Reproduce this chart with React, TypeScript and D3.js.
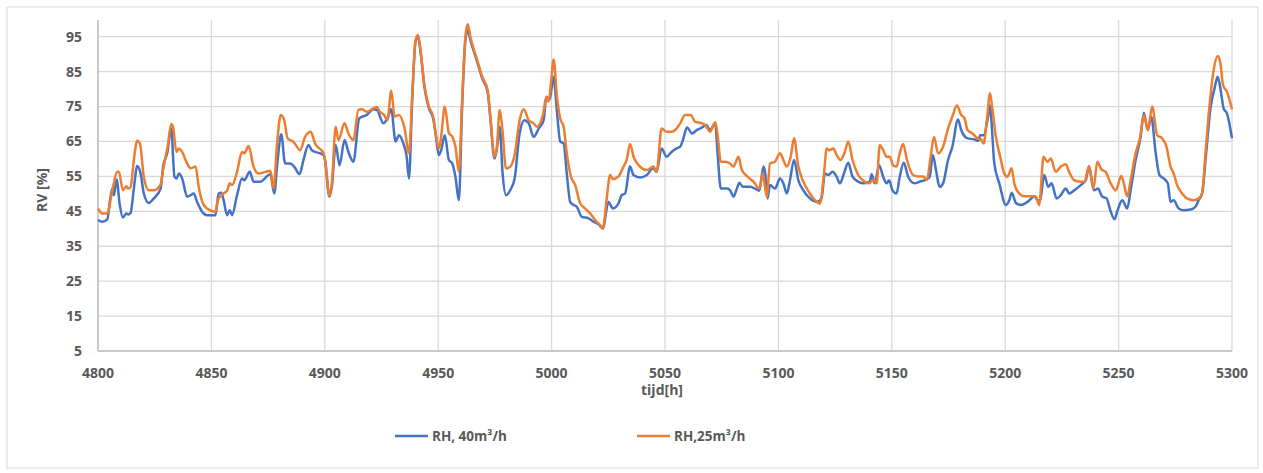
import React from "react";
import * as d3 from "d3";

// Relative humidity over time for two ventilation rates
const hours40 = [4800,4801.9,4804.1,4805.3,4806.3,4807,4808.2,4809.6,4811,4812.5,4813.3,4814.4,4815.8,4817.3,4818.8,4820.2,4822.4,4824.6,4827.6,4828.7,4830.5,4832.3,4833.7,4834.6,4835.7,4837.1,4839.3,4840.8,4842.2,4843.7,4845.9,4848.1,4851.8,4853.2,4854.3,4855.4,4856.9,4858.1,4859.1,4861.3,4863.5,4864.5,4866.9,4868.6,4871.6,4876,4877.7,4879.2,4880.8,4882.5,4884.8,4886.5,4888.9,4890.6,4892.8,4894.3,4899.4,4900.1,4902,4903.1,4904.8,4906.5,4908.7,4910.4,4912.6,4915.2,4918.5,4921.4,4923,4925.8,4927.6,4929.3,4931.2,4932.7,4934.6,4936.1,4937.1,4938.6,4940,4941.1,4942.2,4944,4945.9,4947.8,4948.8,4950.3,4951.3,4952.9,4954.7,4956.2,4957.6,4959.1,4960.6,4962,4963,4964.2,4967.2,4969.4,4971.8,4973,4974.8,4975.9,4977.1,4978.4,4979.9,4981.8,4983.7,4985.9,4988,4989.9,4992.1,4994.3,4996.5,4997.7,4999.1,5000.9,5002.3,5003.8,5005.3,5006.7,5008.2,5009.7,5011.1,5013.3,5016.3,5018.5,5020.7,5022.6,5025.1,5027,5029.5,5030.9,5032.4,5034.6,5036.1,5039,5042,5044.6,5046.3,5048.5,5050.7,5052.9,5055.1,5056.7,5057.9,5059.7,5061.9,5064.1,5066.3,5068.2,5069.9,5072.1,5073.2,5074.6,5077.3,5078.7,5080.2,5081.7,5082.8,5084.3,5087.5,5089.7,5091.6,5093.4,5094.2,5095.2,5096.3,5098.5,5100.7,5102.2,5103.7,5105.1,5106.9,5108.8,5111,5113.9,5116.9,5119,5120.5,5122,5123.9,5125.7,5127.1,5128.9,5130.8,5132.7,5135.2,5137.4,5140.3,5141.1,5142.5,5144.4,5146.2,5147.7,5148.8,5150.3,5152.1,5153.5,5155.3,5157.2,5160.1,5162.3,5165.2,5166.7,5168.1,5169.6,5171.1,5172.6,5174.8,5176.7,5179.2,5180.6,5182.3,5183.4,5186.4,5188.1,5189,5190.5,5192.2,5193.3,5193.9,5195.2,5197.4,5200.3,5201.8,5202.9,5204.7,5206.9,5209.8,5213,5214.2,5215.4,5217.2,5219,5220.4,5222.7,5224.5,5226.7,5228.2,5230.4,5233.3,5235.5,5237,5239.1,5240.9,5242.8,5244.7,5246.5,5248.2,5249.4,5251.6,5253.8,5255.3,5257.5,5259.7,5261.1,5262.9,5264.4,5266.3,5268,5269.9,5271.7,5272.9,5274.3,5276.5,5278.7,5281.7,5283.9,5285.3,5286.8,5288.6,5290.5,5292.3,5293.7,5295.2,5296.3,5297.8,5300];
const rh40 = [42.5,42,42.7,48.2,51.5,49.6,54.1,46.8,43.2,44.4,44.1,44.6,51.5,58,55.8,50.1,47.4,48.7,51.5,57.8,61.6,68.7,54.9,54.4,55.8,54.4,49.2,49.6,50.1,47.7,44.9,43.9,43.9,50.1,50.3,48.2,43.9,45.3,43.9,49.6,54.4,53.9,56.3,53.5,53.5,55.6,50.1,59.7,67.1,58.7,58.7,57.8,55.6,59.7,64,62.5,61.1,59.7,49.2,52,64,58.2,65.4,62,59.2,71.6,72.6,74.2,74,70.2,71.6,74.2,65,66.8,64.5,60.6,54.4,77.8,93.6,95,90.7,80.2,74.5,71.6,67.4,61.1,62.5,66.8,59.7,58.7,54.9,48.2,75.9,94,96.9,94,87.8,83.1,79.2,71.6,60.1,63,69.2,55.8,49.6,51.1,54.4,67.3,71.1,70.2,66.3,68.7,71.1,77.8,76.9,83.5,74,65,64.4,55.8,47.7,46.8,46.3,43.4,43,42,41.3,40.1,47.7,45.8,47.3,49.6,50.1,57.8,55.4,54.7,55.4,57.3,56.3,63,60.6,62,63,63.5,65.4,69,67.3,68.3,69,69.7,68.3,70.2,61.6,51.5,51.5,51,49.2,51.5,53.2,52,52,51.5,50.9,57.8,55.8,48.7,52.5,51.5,54.4,53,50.1,53.9,59.7,53.9,51,48.7,47.7,48.7,55.8,55.4,56.3,54.9,53,55.8,58.9,54.9,53.5,53,53.5,55.6,53,58.2,54.9,53,53.9,51,50.1,54.9,58.9,54.9,53,53.5,54.1,54.9,61.1,56.3,52,53,59.7,63.5,71.3,68.3,66.3,65.9,65.6,65.2,66.8,66.8,71.1,75.4,71.1,58.7,53,46.8,48.2,50.3,47.4,46.8,47.7,49.3,48.2,48.2,55.4,52,53,48.7,49.6,51.5,50.1,51,52.5,53.9,57.9,51,51.5,49.2,48.7,45,42.7,45,48.2,45.8,51,59.7,66.3,73.2,68.3,72.1,62,55.4,54.4,53,47.7,48.2,45.8,45.3,45.5,46.3,48.2,50.1,61.6,74.5,80.2,83.5,78.9,74.5,73,65.9];

const hours25 = [4800,4801.9,4804.1,4806.3,4808.5,4809.2,4811,4812.5,4813.3,4814.4,4815.8,4817.3,4818.5,4820.2,4822.4,4824.6,4827.6,4828.7,4830.8,4832.3,4833,4834.6,4835.6,4837.1,4839.3,4840.8,4843,4844.4,4846.6,4849.5,4851.8,4852.8,4855.4,4856.9,4858.1,4859.1,4861.3,4863.5,4864.5,4866.4,4868.6,4870.8,4873.8,4876,4877.4,4878.9,4880.6,4882.1,4883.6,4886.2,4889.1,4891.3,4893.8,4895.7,4899.4,4900.1,4902,4903.1,4904.8,4906,4908.7,4910.4,4912.6,4914.8,4916.3,4918.5,4922.9,4924.3,4926.1,4927.6,4929.3,4930.8,4932.7,4935.2,4937.1,4938.6,4940,4941.1,4942.2,4944,4945.9,4947.8,4948.8,4950.3,4951.3,4952.9,4954.7,4956.2,4957.6,4959.1,4960.6,4962,4963,4964.2,4967.2,4969.4,4971.8,4973,4974.8,4975.9,4977.1,4978.2,4979.9,4981.8,4983.7,4985.9,4987.7,4989.9,4992.1,4993.5,4996.2,4997.7,4998.7,4999.7,5000.9,5002.3,5003.8,5005.3,5006.7,5008.5,5010.4,5012.6,5014.8,5017,5019.2,5021.4,5022.6,5024.3,5025.8,5027,5029.5,5031.7,5033.1,5034.6,5036.1,5039,5042,5044.9,5046.3,5048.5,5050.7,5052.9,5055.1,5056.7,5058.9,5061.4,5063.3,5066.3,5067.7,5069.9,5071.1,5072.1,5073.2,5074.6,5076.5,5078.7,5080.2,5082.4,5083.9,5086.1,5089,5091.6,5093.1,5094.9,5096.3,5098.5,5100.7,5102.2,5103.7,5105.4,5106.9,5108.8,5111,5113.9,5116.1,5118.3,5120.1,5121.3,5122.4,5124.2,5125.7,5127.4,5129.3,5130.8,5132.7,5135.2,5138.1,5140,5141.8,5143.3,5144.7,5146.2,5147.7,5149.1,5150.6,5152.1,5153.5,5155,5156.7,5159.4,5161.6,5163.8,5165.5,5167,5168.6,5170.4,5172.6,5174.8,5176.7,5178.7,5180.6,5182,5183.4,5185.6,5187.8,5189.3,5190.5,5191.9,5193.3,5194.4,5195.9,5197.8,5199.6,5201,5202.8,5204,5206.2,5208.4,5211.3,5213.5,5215,5216.9,5218.6,5220.1,5222.3,5224.5,5226.7,5228.2,5230.4,5233.3,5235,5236.9,5238.9,5240.6,5242.4,5244.3,5246.5,5248.7,5251.2,5252.3,5253.8,5255.3,5257.5,5259.7,5261.1,5262.9,5264.8,5267,5269.2,5271.1,5272.9,5274.3,5275.8,5278,5280.2,5283.1,5285.3,5286.8,5288.3,5289.7,5291.9,5293.7,5294.9,5296,5297.8,5300];
const rh25 = [45.8,44.4,44.4,51,56.3,56.3,51,52.2,51.5,52,59.7,65.2,64.4,54.9,51,51,52.7,56.8,64,70,69.4,62,63,62,58.7,57.3,57.8,52,46.8,45.3,44.9,48.2,50.1,50.9,53,52.5,56.3,62,61.6,63.7,57.8,55.8,56.3,56.6,51.5,64,72.6,71.1,65.9,64.9,62.5,66.3,67.8,64.4,61.6,59.7,49.6,53,69.2,65.4,70.2,67.3,65.4,74,74.2,73.5,74.9,73.5,72.6,71.1,79.5,72.1,72.6,68.7,61.6,78.8,94,95.5,91.2,80.7,75,72.1,67.8,63,66.4,75,67.4,66.4,63.5,56.3,77.8,95,98.6,95,88.3,83.6,79.7,72.1,60.7,63.5,74,69.2,57.3,57.8,61.1,71.1,74.2,71.1,70.2,69.2,72.6,77.8,76.4,81.6,88.5,78.3,71.6,69.2,61.6,55,52.5,47.3,45.8,44.4,42.5,41,40.1,48.7,55.4,54.2,55,57.8,59.7,64.3,60.7,57.8,56.8,57.8,56.3,68.7,67.8,67.8,68.7,70.2,72.6,72.6,70.6,70.2,69.7,67.8,69.2,70.6,66.8,59.2,59.2,58.7,57.8,60.6,56.8,55.1,53.5,51.5,55.8,49.2,58.7,59.2,61.6,59.7,57.8,60.6,65.9,57.8,53.5,50.1,48.2,47.2,55.8,63,62.5,63,61.1,59.7,62,65,59.7,55.4,53.5,53,54.1,53,64,62.5,60.6,60.6,58.2,57.8,61.6,64.3,59.7,55.4,55,55,54,60.1,66.3,61.6,63.5,68.7,72.1,75.3,72.6,71.7,68.3,67.3,65.9,65.6,64.4,71.1,78.8,74,66.3,60.6,55.8,54.9,57.3,53,50.1,49.3,49.3,49.2,46.8,60.6,59.2,60.1,56.3,57.8,58.5,56.3,53.9,53.5,53.5,57.8,51.5,59.2,57,56.3,53,51,55.1,53,49.3,53.9,61.6,66.8,72.6,68.3,75,66.8,65.9,63.5,57.8,55.8,52.5,50.1,48.7,48.2,48.7,50.1,61.6,72.6,85.4,89.5,87.4,81.2,79.2,74.2];

const xTicks = [4800, 4850, 4900, 4950, 5000, 5050, 5100, 5150, 5200, 5250, 5300];
const yTicks = [5, 15, 25, 35, 45, 55, 65, 75, 85, 95];

const seriesNames = ["RH, 40m³/h", "RH,25m³/h"];
const seriesColors = ["#4472C4", "#ED7D31"];

const W = 1263;
const H = 473;
const left = 98;
const right = 1232;
const top = 20;
const bottom = 351;

const FONT = "'Open Sans', 'Segoe UI', sans-serif";
const TEXT = "#595959";
const GRID = "#d9d9d9";

export default function App() {
  const x = d3.scaleLinear().domain([4800, 5300]).range([left, right]);
  const y = d3.scaleLinear().domain([5, 95]).range([bottom, 36.7]);

  const line = d3
    .line<[number, number]>()
    .x((d) => x(d[0]))
    .y((d) => y(d[1]))
    .curve(d3.curveMonotoneX);

  const s40 = hours40.map((h, i) => [h, rh40[i]] as [number, number]);
  const s25 = hours25.map((h, i) => [h, rh25[i]] as [number, number]);

  return (
    <svg
      width={W}
      height={H}
      style={{ position: "absolute", left: 0, top: 0, background: "#fff" }}
      fontFamily={FONT}
    >
      <rect x={7} y={7} width={1251} height={461} fill="#fff" stroke={GRID} strokeWidth={1} />

      {/* gridlines */}
      {yTicks.map((t) => (
        <line key={"gy" + t} x1={left} x2={right} y1={y(t)} y2={y(t)} stroke={GRID} strokeWidth={1.3} />
      ))}
      {xTicks.map((t) => (
        <line key={"gx" + t} x1={x(t)} x2={x(t)} y1={top} y2={bottom} stroke={GRID} strokeWidth={1.3} />
      ))}

      {/* axes */}
      <line x1={left} x2={left} y1={top} y2={bottom} stroke="#bfbfbf" strokeWidth={1.5} />
      <line x1={left} x2={right} y1={bottom} y2={bottom} stroke="#bfbfbf" strokeWidth={1.5} />

      {/* tick labels */}
      {yTicks.map((t) => (
        <text key={"ly" + t} x={82} y={y(t)} dy="0.35em" textAnchor="end" fontSize={14} fontWeight={700} fill={TEXT}>
          {t}
        </text>
      ))}
      {xTicks.map((t) => (
        <text key={"lx" + t} x={x(t)} y={378} textAnchor="middle" fontSize={14} fontWeight={700} fill={TEXT}>
          {t}
        </text>
      ))}

      {/* axis titles */}
      <text x={662} y={395} textAnchor="middle" fontSize={14} fontWeight={700} fill={TEXT}>
        tijd[h]
      </text>
      <text
        transform={`translate(47,190) rotate(-90)`}
        textAnchor="middle"
        fontSize={14}
        fontWeight={700}
        fill={TEXT}
      >
        RV [%]
      </text>

      {/* series */}
      <path d={line(s40) || ""} fill="none" stroke={seriesColors[0]} strokeWidth={2.5} strokeLinejoin="round" />
      <path d={line(s25) || ""} fill="none" stroke={seriesColors[1]} strokeWidth={2.5} strokeLinejoin="round" />

      {/* legend */}
      {[395, 637].map((lx, i) => (
        <g key={"lg" + i}>
          <line x1={lx} x2={lx + 33} y1={436} y2={436} stroke={seriesColors[i]} strokeWidth={2.5} />
          <text x={lx + 37} y={436} dy="0.35em" fontSize={13.5} fontWeight={700} fill={TEXT}>
            {seriesNames[i]}
          </text>
        </g>
      ))}
    </svg>
  );
}
